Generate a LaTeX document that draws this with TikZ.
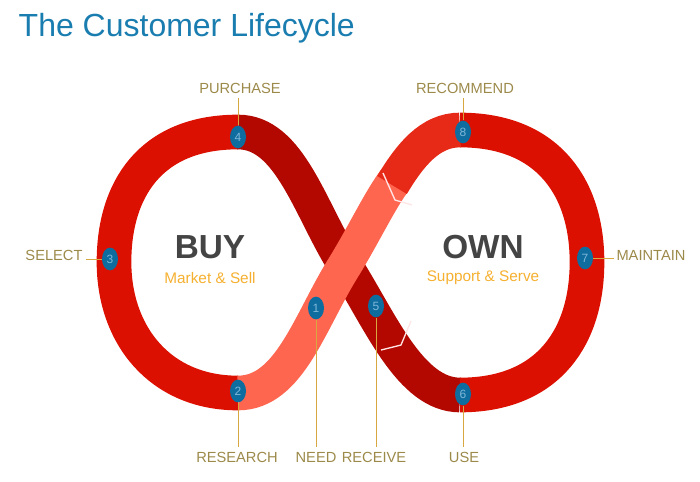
\documentclass[tikz,border=0pt]{standalone}
\usepackage{fontspec}
\setmainfont{Liberation Sans}
\usetikzlibrary{shapes.geometric}
\definecolor{markblue}{HTML}{0E6C9E}
\definecolor{numblue}{HTML}{7FB8DA}
\definecolor{leadc}{HTML}{D8A840}
\definecolor{labc}{HTML}{9C8A4A}
\definecolor{darkr}{HTML}{B30800}
\definecolor{brightr}{HTML}{DC1000}
\definecolor{lightr}{HTML}{FF6650}
\definecolor{titlec}{HTML}{1A7DB0}
\definecolor{bigc}{HTML}{444444}
\definecolor{subc}{HTML}{F5B030}
\begin{document}
\begin{tikzpicture}[x=0.75pt,y=-0.75pt,
  band/.style={line width=26pt},
  mk/.style={ellipse,fill=markblue,minimum width=12pt,minimum height=17pt,inner sep=0pt,text=numblue,font=\fontsize{9}{9}\selectfont},
  lead/.style={draw=leadc,line width=0.6pt},
  lab/.style={text=labc,font=\fontsize{11}{13}\selectfont},
  chev/.style={draw=white!90!red,line width=1pt}]
\useasboundingbox (0,0) rectangle (700,482);
\node[anchor=west,text=titlec,font=\fontsize{24}{26}\selectfont] (title) at (14,28) {The Customer Lifecycle};
% left loop
\draw[band,brightr] (238,132) .. controls (150,132) and (114,190) .. (114,262)
   .. controls (114,335) and (160,393) .. (238,393);
% dark under strand
\draw[band,darkr] (460,395) .. controls (410,395) and (380,320) .. (345,265)
   .. controls (310,210) and (290,132) .. (238,132);
% right loop
\draw[band,brightr] (460,130) .. controls (550,130) and (587,190) .. (587,262)
   .. controls (587,335) and (550,395) .. (460,395);
% light strand
\draw[band,lightr] (238,393) .. controls (290,393) and (310,320) .. (345,265)
   .. controls (365,232) and (380,200) .. (395,180);
\draw[band,brightr!70!lightr] (392,185) .. controls (410,155) and (430,130) .. (460,130);
\draw[chev] (383,173) -- (395,200) -- (412,205);
\draw[chev] (411,321) -- (401,345) -- (381,350);
% markers and leaders
\node[mk] (m1) at (316,308) {1};
\node[mk] (m2) at (238,391) {2};
\node[mk] (m3) at (110,259) {3};
\node[mk] (m4) at (238,137) {4};
\node[mk] (m5) at (376,306) {5};
\node[mk] (m6) at (463,394) {6};
\node[mk] (m7) at (585,258) {7};
\node[mk] (m8) at (463,132) {8};
\node[lab] (l4) at (240,88) {PURCHASE};
\node[lab] (l8) at (465,88) {RECOMMEND};
\node[lab] (l3) at (54,255) {SELECT};
\node[lab] (l7) at (651,255) {MAINTAIN};
\node[lab] (l2) at (237,457) {RESEARCH};
\node[lab] (l1) at (316,457) {NEED};
\node[lab] (l5) at (374,457) {RECEIVE};
\node[lab] (l6) at (464,457) {USE};
\coordinate (c3) at (86,259); \coordinate (c7) at (614,258);
\draw[lead] (m4.north) -- (m4.north |- l4.south);
\draw[lead] (m8.north) -- (m8.north |- l8.south);
\draw[lead] (m3.west) -- (c3);
\draw[lead] (m7.east) -- (c7);
\draw[lead] (m2.south) -- (m2.south |- l2.north);
\draw[lead] (m1.south) -- (m1.south |- l1.north);
\draw[lead] (m5.south) -- (m5.south |- l5.north);
\draw[lead] (m6.south) -- (m6.south |- l6.north);
% centre texts
\node[text=bigc,font=\bfseries\fontsize{25}{27}\selectfont] (buy) at (210,247) {BUY};
\node[text=subc,font=\fontsize{11.5}{13}\selectfont] (ms) at (210,278) {Market \& Sell};
\node[text=bigc,font=\bfseries\fontsize{25}{27}\selectfont] (own) at (483,247) {OWN};
\node[text=subc,font=\fontsize{11.5}{13}\selectfont] (ss) at (483,278) {Support \& Serve};
\end{tikzpicture}
\end{document}
